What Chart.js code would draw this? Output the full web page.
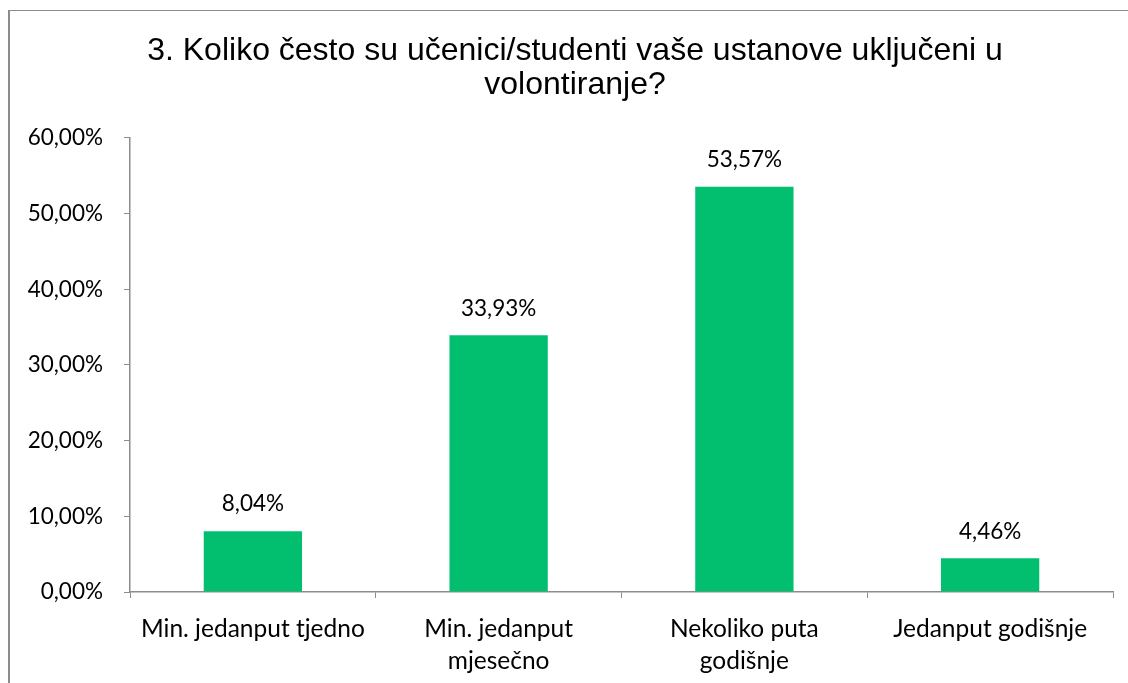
<!DOCTYPE html>
<html>
<head>
<meta charset="utf-8">
<script src="https://cdn.jsdelivr.net/npm/chart.js@4"></script>
<style>
  html, body { margin: 0; padding: 0; background: #fff; overflow: hidden; }
  .frame { position: absolute; left: 8px; top: 10px; width: 1200px; height: 800px;
           border-left: 2px solid #8c8c8c; border-top: 1px solid #8c8c8c; }
  .graphBox { position: absolute; left: 0; top: 0; width: 1128px; height: 683px; }
</style>
</head>
<body>
<div class="frame"></div>
<div class="graphBox"><canvas id="bar" width="1128" height="683"></canvas></div>
<script>
// chart data
const categories = [
  "Min. jedanput tjedno",
  ["Min. jedanput", "mjesečno"],
  ["Nekoliko puta", "godišnje"],
  "Jedanput godišnje"
];
const percentages = [8.04, 33.93, 53.57, 4.46];
const yTicks = [0, 10, 20, 30, 40, 50, 60];
const titleLines = ["3. Koliko često su učenici/studenti vaše ustanove uključeni u", "volontiranje?"];

const green = "#02BF70";
const axisGray = "#8c8c8c";
const labelFont = "Lato";

function fmt(v) {
  return v.toFixed(2).replace(".", ",") + "%";
}

// draws the value above each bar
const valueLabels = {
  id: "valueLabels",
  afterDatasetsDraw(chart) {
    const ctx = chart.ctx;
    const meta = chart.getDatasetMeta(0);
    ctx.save();
    ctx.font = "22.5px " + labelFont;
    ctx.fillStyle = "#000";
    ctx.textAlign = "center";
    ctx.textBaseline = "middle";
    meta.data.forEach((bar, i) => {
      ctx.fillText(fmt(percentages[i]), bar.x, bar.y - 27);
    });
    ctx.restore();
  }
};

new Chart(document.getElementById("bar"), {
  type: "bar",
  data: {
    labels: categories,
    datasets: [{
      data: percentages,
      backgroundColor: green,
      borderWidth: 0,
      barPercentage: 0.4,
      categoryPercentage: 1
    }]
  },
  options: {
    responsive: false,
    animation: false,
    layout: { padding: { left: 22, right: 0, top: 0, bottom: 0 } },
    plugins: {
      legend: { display: false },
      tooltip: { enabled: false },
      title: {
        display: true,
        text: titleLines,
        color: "#000",
        font: { family: "Liberation Sans", size: 32, weight: "normal", lineHeight: 1.07 },
        padding: { top: 34, bottom: 35.5 }
      }
    },
    scales: {
      x: {
        offset: true,
        grid: { offset: true, drawOnChartArea: false, drawTicks: true, tickLength: 6, color: axisGray },
        border: { color: axisGray, width: 1.5 },
        ticks: { color: "#000", padding: 15, maxRotation: 0, autoSkip: false,
                 font: { family: labelFont, size: 24.5, lineHeight: 1.3 } },
        afterFit(scale) { scale.height = 91; }
      },
      y: {
        min: 0,
        max: 60,
        afterBuildTicks(scale) { scale.ticks = yTicks.map(v => ({ value: v })); },
        grid: { drawOnChartArea: false, drawTicks: true, tickLength: 6, color: axisGray },
        border: { color: axisGray, width: 1.5 },
        ticks: { color: "#000", padding: 21, callback: v => fmt(v),
                 font: { family: labelFont, size: 22.5 } },
        afterFit(scale) { scale.width = 108; }
      },
      // empty right margin axis so the plot ends where the original does
      yRight: {
        position: "right",
        display: true,
        grid: { display: false },
        border: { display: false },
        ticks: { display: false },
        afterFit(scale) { scale.width = 15; }
      }
    }
  },
  plugins: [valueLabels]
});
</script>
</body>
</html>
